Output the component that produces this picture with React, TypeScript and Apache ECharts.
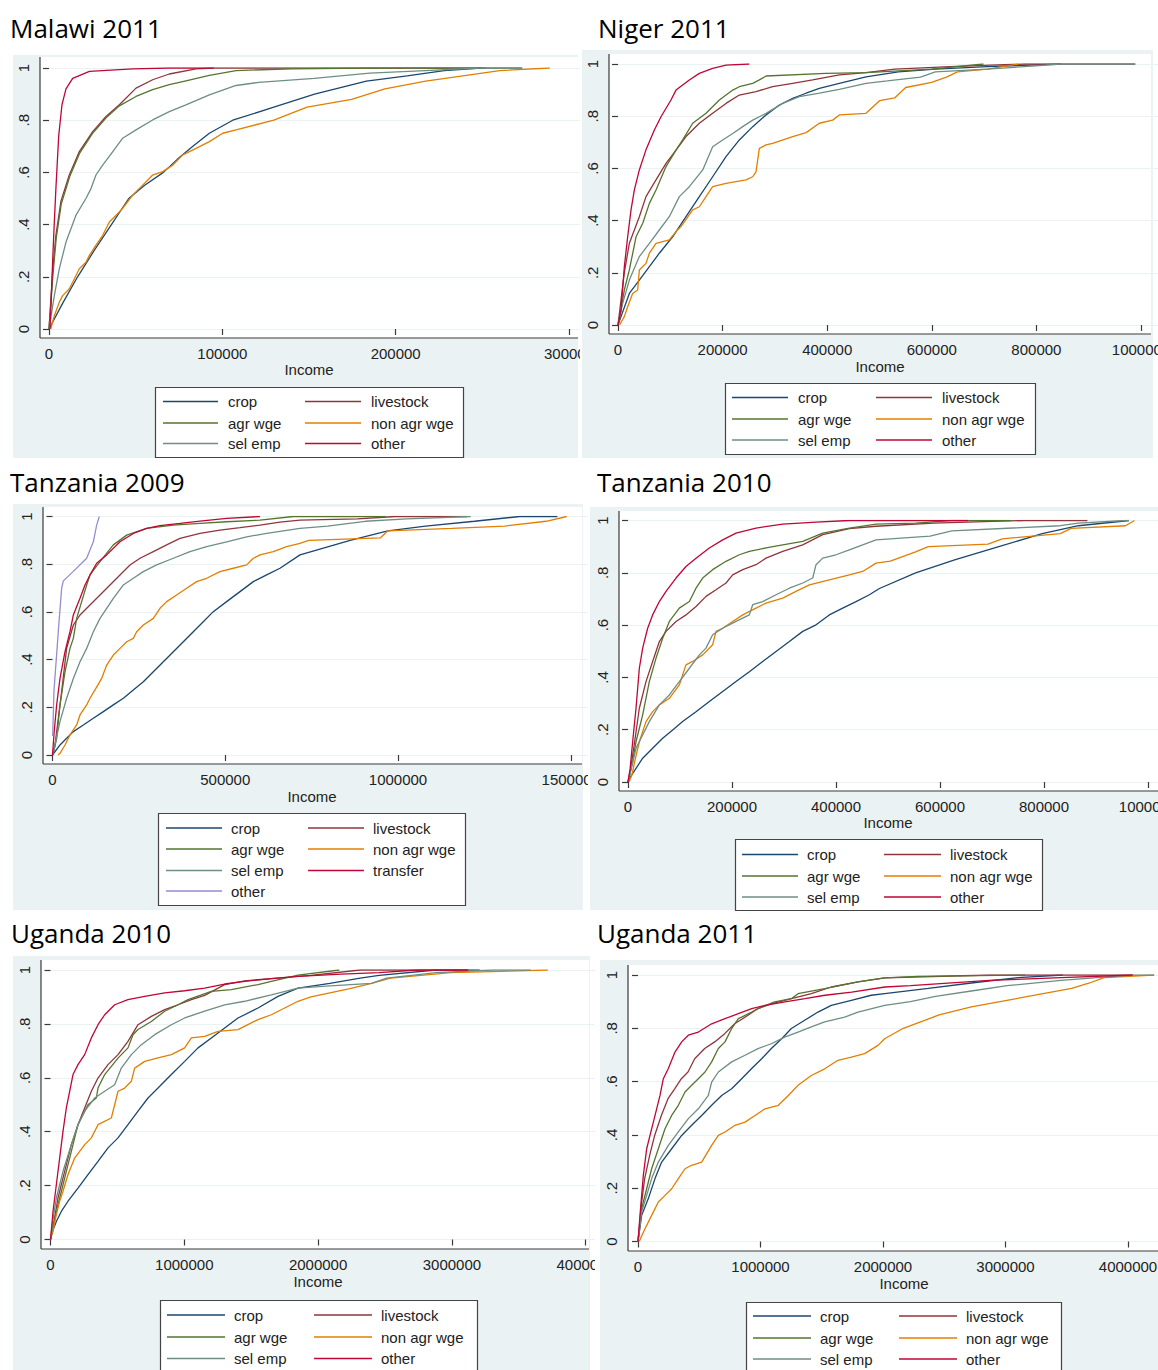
import React, { useEffect, useRef } from 'react';
import * as echarts from 'echarts';

type Pt = [number, number];

// ---------------- DATA (income, cumulative share) ----------------
// Malawi 2011
const malawiCrop: Pt[] = [[0,0],[8000,0.1],[16500,0.2],[26000,0.3],[36000,0.4],[46000,0.5],[55000,0.55],[66000,0.6],[74000,0.65],[83000,0.7],[92500,0.75],[106000,0.8],[129700,0.85],[153200,0.9],[183100,0.95],[206600,0.97],[228000,0.99],[249400,1]];
const malawiLivestock: Pt[] = [[0,0],[2100,0.22],[4000,0.36],[6900,0.49],[11700,0.59],[17500,0.68],[25200,0.756],[32900,0.814],[40600,0.859],[50200,0.923],[59800,0.955],[69400,0.977],[84800,0.997],[95000,1],[252000,1]];
const malawiAgrWge: Pt[] = [[0,0],[2300,0.21],[4200,0.35],[7100,0.48],[12000,0.585],[17800,0.675],[25400,0.752],[33100,0.81],[40600,0.855],[50200,0.891],[59800,0.917],[69400,0.936],[79000,0.951],[92500,0.972],[107900,0.99],[140000,0.997],[185000,1],[273000,1]];
const malawiNonAgrWge: Pt[] = [[1000,0],[3080,0.051],[5960,0.103],[7890,0.128],[11730,0.154],[13650,0.179],[17500,0.231],[21300,0.256],[23300,0.282],[27100,0.321],[30960,0.359],[34800,0.41],[38700,0.436],[42500,0.462],[48300,0.513],[52100,0.538],[59800,0.59],[65600,0.603],[71400,0.628],[77200,0.667],[84800,0.692],[92500,0.718],[100200,0.75],[107900,0.763],[129700,0.8],[148900,0.85],[174600,0.88],[193800,0.92],[217300,0.95],[238700,0.97],[260000,0.99],[288900,1]];
const malawiSelEmp: Pt[] = [[0,0],[3080,0.128],[5960,0.231],[9800,0.333],[15570,0.436],[21300,0.5],[24230,0.538],[27100,0.59],[30960,0.628],[36700,0.679],[42500,0.731],[50200,0.763],[59800,0.801],[69400,0.833],[79000,0.859],[92500,0.897],[107900,0.933],[121000,0.945],[153000,0.96],[185000,0.98],[217000,0.99],[249000,1],[273000,1]];
const malawiOther: Pt[] = [[500,0],[1200,0.1],[2100,0.26],[3000,0.4],[4000,0.54],[5600,0.74],[7500,0.86],[9800,0.92],[13650,0.96],[23300,0.987],[48300,0.997],[69400,1],[95000,1]];

// Niger 2011
const nigerCrop: Pt[] = [[0,0],[5740,0.032],[21700,0.121],[40800,0.172],[60000,0.224],[79000,0.275],[104500,0.338],[130000,0.415],[155500,0.492],[181000,0.568],[206500,0.645],[232000,0.709],[257600,0.76],[283100,0.805],[308600,0.843],[334000,0.868],[359600,0.888],[385000,0.907],[423200,0.926],[474200,0.951],[536000,0.97],[606700,0.98],[705900,0.99],[847500,1]];
const nigerLivestock: Pt[] = [[0,0],[6000,0.1],[12000,0.2],[21700,0.313],[40800,0.415],[53500,0.492],[72700,0.556],[91800,0.619],[110900,0.67],[130000,0.722],[155500,0.773],[181000,0.811],[206500,0.849],[232000,0.881],[263800,0.894],[295700,0.913],[334000,0.926],[372200,0.939],[423200,0.958],[474200,0.967],[528900,0.98],[635000,0.99],[776700,1],[989000,1]];
const nigerAgrWge: Pt[] = [[0,0],[5000,0.05],[12100,0.134],[21700,0.211],[34500,0.338],[47300,0.39],[60000,0.466],[72700,0.517],[91800,0.607],[110900,0.67],[123700,0.709],[142800,0.773],[168300,0.811],[193800,0.862],[219400,0.9],[232000,0.913],[257600,0.926],[270300,0.939],[283100,0.954],[397000,0.964],[474200,0.967],[599700,0.98],[698800,1]];
const nigerNonAgrWge: Pt[] = [[3000,0],[12100,0.032],[18500,0.07],[28000,0.121],[37600,0.134],[40800,0.211],[53500,0.236],[60000,0.275],[72700,0.313],[98100,0.326],[110900,0.358],[120400,0.377],[142800,0.441],[155500,0.453],[168300,0.492],[181000,0.53],[206500,0.543],[244700,0.556],[257600,0.568],[263800,0.587],[270300,0.677],[283100,0.69],[295700,0.696],[334000,0.722],[359600,0.737],[385000,0.773],[410400,0.785],[423200,0.805],[474200,0.811],[500600,0.86],[528900,0.87],[550100,0.91],[599700,0.93],[628000,0.95],[649200,0.97],[705900,0.98],[766000,1]];
const nigerSelEmp: Pt[] = [[0,0],[8900,0.083],[21700,0.172],[40800,0.262],[60000,0.313],[79000,0.364],[98100,0.415],[117300,0.492],[136400,0.53],[162000,0.594],[181000,0.683],[200100,0.709],[219400,0.734],[238400,0.76],[257600,0.785],[283100,0.811],[315000,0.849],[346800,0.875],[385000,0.888],[423200,0.903],[474200,0.926],[514700,0.935],[578400,0.95],[606700,0.97],[705900,0.98],[776700,0.99],[847500,1],[989000,1]];
const nigerOther: Pt[] = [[0,0],[5740,0.057],[12100,0.223],[18500,0.338],[24900,0.441],[31200,0.517],[40800,0.594],[53500,0.671],[69500,0.747],[82200,0.798],[101300,0.862],[110900,0.9],[136400,0.939],[155500,0.964],[181000,0.983],[206500,0.996],[251100,1]];

// Tanzania 2009
const tz09Crop: Pt[] = [[0,0],[21700,0.042],[40900,0.07],[60300,0.098],[89300,0.126],[118200,0.154],[147200,0.182],[176100,0.21],[205100,0.238],[233900,0.273],[262900,0.307],[291800,0.349],[320700,0.391],[349700,0.433],[378600,0.475],[407500,0.517],[436400,0.559],[465400,0.601],[504000,0.643],[542700,0.685],[581300,0.727],[619900,0.755],[658400,0.783],[716300,0.839],[741500,0.85],[861500,0.9],[970500,0.94],[1079600,0.96],[1221400,0.98],[1352200,1],[1461300,1]];
const tz09Livestock: Pt[] = [[0,0],[7200,0.042],[16900,0.154],[26500,0.266],[40900,0.447],[60300,0.545],[79600,0.587],[108500,0.629],[137500,0.671],[166400,0.713],[195300,0.755],[224300,0.797],[253200,0.825],[291800,0.853],[330400,0.881],[369000,0.908],[426900,0.929],[484800,0.943],[542700,0.953],[600500,0.964],[658400,0.976],[716300,0.985],[883300,0.99],[992400,1],[1199500,1]];
const tz09AgrWge: Pt[] = [[0,0],[6000,0.03],[12060,0.07],[21700,0.21],[36200,0.349],[50600,0.447],[60300,0.489],[69900,0.573],[84400,0.643],[98900,0.713],[108500,0.755],[137500,0.811],[176100,0.881],[214700,0.922],[272500,0.95],[349700,0.964],[426900,0.971],[504000,0.978],[600500,0.985],[697000,1],[965100,1]];
const tz09NonAgrWge: Pt[] = [[16400,0],[21700,0.007],[36200,0.042],[50600,0.084],[69900,0.126],[79600,0.168],[98900,0.21],[108500,0.238],[123000,0.273],[142300,0.321],[156800,0.377],[176100,0.419],[195300,0.447],[214600,0.475],[233900,0.489],[243500,0.517],[262900,0.545],[291800,0.573],[311100,0.615],[330400,0.643],[359300,0.671],[388200,0.699],[417200,0.727],[446200,0.741],[484800,0.769],[523400,0.783],[562000,0.797],[581300,0.825],[600500,0.839],[639100,0.853],[677700,0.874],[716300,0.887],[741500,0.9],[948700,0.91],[970500,0.94],[1155900,0.95],[1308600,0.96],[1428600,0.98],[1488500,1]];
const tz09SelEmp: Pt[] = [[0,0],[8000,0.05],[21700,0.14],[40900,0.238],[60300,0.321],[79600,0.391],[98900,0.447],[118200,0.517],[137500,0.573],[156800,0.615],[176100,0.657],[205100,0.713],[233900,0.741],[262900,0.769],[301400,0.797],[349700,0.825],[397900,0.853],[446200,0.874],[504000,0.894],[562000,0.915],[619900,0.929],[716300,0.95],[796100,0.96],[905100,0.98],[1025100,0.99],[1210500,1]];
const tz09Transfer: Pt[] = [[0,0],[5000,0.1],[12060,0.21],[21700,0.321],[36200,0.433],[50600,0.517],[60300,0.587],[79600,0.657],[94100,0.713],[108500,0.755],[127800,0.804],[156800,0.839],[195300,0.894],[233900,0.929],[272500,0.95],[311100,0.962],[369000,0.971],[426900,0.981],[504000,0.992],[600500,1]];
const tz09Other: Pt[] = [[500,0.08],[4300,0.27],[16900,0.52],[26500,0.7],[31400,0.73],[60300,0.77],[98900,0.825],[118200,0.894],[127800,0.964],[135500,1]];

// Tanzania 2010
const tz10Crop: Pt[] = [[0,0],[5000,0.02],[15400,0.052],[28200,0.091],[47400,0.129],[66700,0.167],[85900,0.199],[105100,0.231],[130800,0.269],[156400,0.308],[182100,0.346],[207700,0.384],[233400,0.422],[259000,0.461],[284700,0.499],[310300,0.537],[336000,0.576],[361600,0.601],[387200,0.639],[412900,0.665],[438500,0.69],[464200,0.716],[483500,0.74],[553100,0.8],[629600,0.85],[713100,0.9],[796600,0.95],[866100,0.98],[963500,1]];
const tz10Livestock: Pt[] = [[0,0],[5000,0.05],[12800,0.154],[21800,0.282],[34600,0.384],[47400,0.461],[60300,0.537],[73100,0.576],[92300,0.614],[111500,0.639],[130800,0.671],[150000,0.71],[169300,0.735],[188500,0.761],[201300,0.792],[220600,0.812],[246200,0.831],[265400,0.856],[297500,0.882],[336000,0.907],[374400,0.946],[425700,0.969],[477000,0.978],[587900,0.99],[761800,1],[883500,1]];
const tz10AgrWge: Pt[] = [[0,0],[8970,0.078],[15400,0.154],[28200,0.257],[41000,0.384],[53800,0.473],[66700,0.55],[79500,0.614],[98700,0.665],[118000,0.69],[130800,0.741],[143600,0.78],[162800,0.812],[188500,0.844],[214100,0.869],[233400,0.882],[265400,0.895],[297500,0.907],[336000,0.92],[374400,0.952],[425700,0.971],[477000,0.986],[553100,0.99],[622700,1],[737400,1]];
const tz10NonAgrWge: Pt[] = [[2000,0],[8000,0.03],[12800,0.078],[21800,0.154],[34600,0.231],[47400,0.269],[60300,0.295],[79500,0.32],[98700,0.371],[111500,0.448],[124400,0.461],[143600,0.486],[162800,0.525],[169300,0.576],[182100,0.588],[201300,0.614],[220600,0.639],[246200,0.665],[265400,0.684],[297500,0.703],[323100,0.729],[348800,0.754],[387200,0.773],[425700,0.792],[451300,0.805],[477000,0.837],[504400,0.845],[553100,0.88],[577400,0.9],[692200,0.91],[720000,0.93],[831300,0.95],[852200,0.97],[956600,0.98],[974000,1]];
const tz10SelEmp: Pt[] = [[0,0],[5000,0.04],[15400,0.129],[28200,0.18],[41000,0.231],[60300,0.295],[79500,0.333],[98700,0.384],[118000,0.435],[137200,0.486],[150000,0.512],[162800,0.563],[182100,0.588],[207700,0.614],[233400,0.639],[239800,0.678],[259000,0.69],[284700,0.716],[310300,0.741],[336000,0.761],[355200,0.78],[361600,0.831],[374400,0.856],[400000,0.869],[425700,0.888],[451300,0.907],[477000,0.926],[580900,0.94],[622700,0.96],[831300,0.98],[866100,0.99],[956600,1],[963500,1]];
const tz10Other: Pt[] = [[0,0],[4000,0.05],[8970,0.154],[15400,0.282],[21800,0.435],[28200,0.512],[37800,0.588],[47400,0.639],[60300,0.69],[73100,0.729],[92300,0.78],[111500,0.824],[130800,0.856],[156400,0.895],[182100,0.926],[207700,0.952],[246200,0.971],[297500,0.986],[361600,0.994],[425700,1],[654000,1]];

// Uganda 2010
const ug10Crop: Pt[] = [[0,0],[15000,0.03],[43600,0.067],[80900,0.104],[130800,0.142],[205500,0.191],[280200,0.241],[355000,0.29],[429800,0.34],[504500,0.377],[579200,0.426],[654000,0.476],[728700,0.525],[803500,0.562],[903200,0.612],[1002800,0.661],[1102500,0.711],[1202100,0.748],[1301700,0.785],[1401500,0.822],[1550900,0.859],[1700400,0.902],[1849800,0.933],[2087900,0.95],[2314600,0.97],[2456200,0.98],[2881200,1],[3207000,1]];
const ug10Livestock: Pt[] = [[0,0],[20000,0.05],[56100,0.154],[105900,0.253],[155700,0.352],[205500,0.426],[255400,0.488],[305200,0.55],[355000,0.599],[429800,0.649],[504500,0.686],[579200,0.735],[654000,0.797],[753600,0.828],[853300,0.853],[952900,0.871],[1052600,0.89],[1152300,0.906],[1301700,0.946],[1451200,0.96],[1650500,0.968],[1849800,0.976],[1946300,0.98],[2314600,1],[3121900,1]];
const ug10AgrWge: Pt[] = [[0,0],[20000,0.05],[56100,0.129],[105900,0.228],[155700,0.327],[205500,0.426],[280200,0.5],[342500,0.525],[355000,0.562],[404900,0.612],[504500,0.673],[579200,0.711],[616600,0.76],[654000,0.779],[753600,0.809],[853300,0.847],[952900,0.871],[1027700,0.89],[1202100,0.921],[1351600,0.927],[1550900,0.946],[1650500,0.958],[1849800,0.981],[2158700,1]];
const ug10NonAgrWge: Pt[] = [[14200,0.02],[43600,0.092],[68500,0.142],[93400,0.179],[130800,0.241],[180600,0.302],[255400,0.352],[305200,0.377],[355000,0.426],[454700,0.451],[479600,0.5],[504500,0.55],[554300,0.562],[604200,0.587],[629100,0.636],[703800,0.661],[803500,0.674],[903200,0.686],[1002800,0.711],[1052600,0.748],[1152300,0.754],[1252000,0.772],[1401500,0.779],[1550900,0.816],[1650500,0.834],[1849800,0.884],[1946300,0.9],[2229600,0.93],[2399600,0.95],[2541200,0.97],[2994500,0.99],[3716900,1]];
const ug10SelEmp: Pt[] = [[0,0],[15000,0.06],[43600,0.154],[93400,0.253],[155700,0.352],[205500,0.426],[255400,0.476],[330100,0.525],[404900,0.55],[479600,0.574],[529400,0.636],[604200,0.686],[678900,0.723],[778600,0.76],[903200,0.797],[1002800,0.822],[1152300,0.847],[1301700,0.871],[1451200,0.884],[1650500,0.908],[1849800,0.933],[2059600,0.94],[2399600,0.95],[2512900,0.97],[2881200,0.99],[3306100,1],[3589400,1]];
const ug10Other: Pt[] = [[0,0],[18700,0.104],[43600,0.203],[68500,0.302],[93400,0.401],[118300,0.488],[143300,0.55],[168200,0.612],[205500,0.649],[255400,0.686],[305200,0.748],[355000,0.797],[404900,0.834],[479600,0.871],[579200,0.89],[703800,0.902],[853300,0.915],[1002800,0.923],[1152300,0.933],[1301700,0.948],[1451200,0.958],[1650500,0.968],[1849800,0.976],[2173000,0.985],[2456000,0.99],[2739500,1],[3121900,1]];

// Uganda 2011
const ug11Crop: Pt[] = [[0,0],[29900,0.098],[84300,0.161],[138700,0.236],[193200,0.298],[274800,0.348],[356400,0.398],[438100,0.436],[519700,0.473],[601300,0.511],[683000,0.548],[764600,0.573],[846300,0.611],[927900,0.649],[1009500,0.686],[1088400,0.724],[1172800,0.761],[1251700,0.799],[1360500,0.83],[1469300,0.861],[1578200,0.886],[1741400,0.905],[1904700,0.924],[2013500,0.93],[2370100,0.95],[2721200,0.97],[3101600,0.99],[3467300,1]];
const ug11Livestock: Pt[] = [[0,0],[29900,0.148],[54400,0.236],[95200,0.323],[136000,0.398],[190500,0.473],[244900,0.536],[299300,0.573],[353800,0.611],[408200,0.636],[462600,0.686],[544200,0.724],[625900,0.749],[707500,0.78],[789100,0.817],[897900,0.849],[979600,0.874],[1088400,0.892],[1251700,0.911],[1415000,0.93],[1578200,0.955],[1795900,0.974],[2013500,0.989],[2867500,1],[4037900,1]];
const ug11AgrWge: Pt[] = [[0,0],[29900,0.123],[70700,0.198],[111500,0.273],[166000,0.348],[220400,0.423],[274800,0.473],[329300,0.511],[383700,0.561],[438100,0.586],[492500,0.611],[547000,0.636],[601300,0.674],[655800,0.724],[710200,0.749],[764600,0.799],[819000,0.836],[927900,0.861],[979600,0.874],[1115600,0.899],[1251700,0.911],[1306100,0.93],[1523800,0.949],[1795900,0.974],[2013500,0.989],[2282300,0.995],[3160100,1]];
const ug11NonAgrWge: Pt[] = [[10000,0],[57100,0.048],[111500,0.098],[166000,0.148],[220400,0.173],[274800,0.198],[329300,0.236],[383700,0.273],[438100,0.286],[519700,0.298],[601300,0.361],[655800,0.398],[710200,0.411],[791800,0.436],[873500,0.448],[955100,0.473],[1036700,0.498],[1145600,0.511],[1227200,0.548],[1306100,0.586],[1415000,0.623],[1523800,0.648],[1632600,0.68],[1741400,0.692],[1850300,0.705],[1959100,0.736],[2013500,0.761],[2165200,0.8],[2457800,0.85],[2721200,0.88],[2955300,0.9],[3306400,0.93],[3540500,0.95],[3686800,0.97],[3803800,0.99],[4213400,1]];
const ug11SelEmp: Pt[] = [[0,0],[29900,0.111],[70700,0.173],[111500,0.236],[166000,0.298],[247600,0.361],[329300,0.411],[410900,0.461],[492500,0.498],[574200,0.548],[601300,0.598],[655800,0.636],[764600,0.674],[873500,0.699],[979600,0.724],[1088400,0.742],[1197200,0.767],[1306100,0.786],[1415000,0.805],[1523800,0.824],[1687100,0.842],[1795900,0.861],[2013500,0.886],[2223800,0.9],[2428600,0.92],[2721200,0.94],[3013800,0.96],[3452700,0.98],[3745300,0.99],[4037900,1],[4213400,1]];
const ug11Other: Pt[] = [[0,0],[16300,0.098],[43500,0.248],[70700,0.348],[98000,0.398],[125200,0.448],[152400,0.498],[179600,0.548],[206800,0.611],[247600,0.649],[302000,0.711],[356400,0.749],[410900,0.774],[492500,0.786],[601300,0.817],[710200,0.836],[819000,0.855],[927900,0.874],[1036700,0.886],[1200000,0.899],[1363200,0.911],[1526500,0.924],[1744200,0.936],[2016300,0.955],[2223800,0.96],[2867500,0.98],[3452700,0.99],[4037900,1]];

const Y_TICKS = [0, 0.2, 0.4, 0.6, 0.8, 1];

// ---------------- STYLE ----------------
const COLOR: Record<string, string> = {
  crop: '#1a476f',
  livestock: '#90353b',
  'agr wge': '#55752f',
  'non agr wge': '#e37e00',
  'sel emp': '#6e8e84',
  other: '#c10534',
  transfer: '#c10534',
  lavender: '#938dd2',
};
const GREY = '#eaf2f3';
const AXIS = '#3a3a3a';
const FONT = 'Liberation Sans';

interface SeriesDef { name: string; data: Pt[]; color: string }
interface PanelCfg {
  left: number; top: number; width: number; height: number;
  title: string; titleX: number; titleY: number;
  grey: [number, number, number, number];
  axisX: number; axisY: number; plotTop: number; plotRight: number;
  x0: number; pxPerUnit: number; y0: number; y1: number;
  interval: number;
  incomeX: number; incomeY: number;
  legendBox: [number, number, number, number];
  col1: [number, number, number]; col2: [number, number, number];
  rows: number[];
  series: SeriesDef[];
  legendOrder: string[][];
}

const six = (crop: Pt[], live: Pt[], agr: Pt[], non: Pt[], sel: Pt[], oth: Pt[]): SeriesDef[] => [
  { name: 'crop', data: crop, color: COLOR.crop },
  { name: 'livestock', data: live, color: COLOR.livestock },
  { name: 'agr wge', data: agr, color: COLOR['agr wge'] },
  { name: 'non agr wge', data: non, color: COLOR['non agr wge'] },
  { name: 'sel emp', data: sel, color: COLOR['sel emp'] },
  { name: 'other', data: oth, color: COLOR.other },
];
const ORDER6 = [['crop', 'livestock'], ['agr wge', 'non agr wge'], ['sel emp', 'other']];

const PANELS: PanelCfg[] = [
  {
    left: 0, top: 0, width: 580, height: 460,
    title: 'Malawi 2011', titleX: 10, titleY: 28,
    grey: [13, 55, 578, 458],
    axisX: 40, axisY: 338, plotTop: 57, plotRight: 578,
    x0: 49, pxPerUnit: 520 / 300000, y0: 329, y1: 68, interval: 100000,
    incomeX: 309, incomeY: 369,
    legendBox: [155, 387, 463, 457], col1: [163, 218, 228], col2: [305, 361, 371], rows: [401.5, 423, 443.5],
    series: six(malawiCrop, malawiLivestock, malawiAgrWge, malawiNonAgrWge, malawiSelEmp, malawiOther),
    legendOrder: ORDER6,
  },
  {
    left: 580, top: 0, width: 578, height: 460,
    title: 'Niger 2011', titleX: 598, titleY: 28,
    grey: [582, 50, 1153, 458],
    axisX: 609, axisY: 334, plotTop: 54, plotRight: 1151,
    x0: 618, pxPerUnit: 523 / 1000000, y0: 325, y1: 64, interval: 200000,
    incomeX: 880, incomeY: 366,
    legendBox: [725, 383, 1035, 454], col1: [732, 788, 798], col2: [876, 932, 942], rows: [397.5, 419, 440],
    series: six(nigerCrop, nigerLivestock, nigerAgrWge, nigerNonAgrWge, nigerSelEmp, nigerOther),
    legendOrder: ORDER6,
  },
  {
    left: 0, top: 460, width: 588, height: 452,
    title: 'Tanzania 2009', titleX: 10, titleY: 482,
    grey: [13, 504, 583, 910],
    axisX: 43, axisY: 764, plotTop: 507, plotRight: 582,
    x0: 52.5, pxPerUnit: 345.5 / 1000000, y0: 755, y1: 516.5, interval: 500000,
    incomeX: 312, incomeY: 796,
    legendBox: [158, 813, 465, 905], col1: [166, 222, 231], col2: [308, 364, 373], rows: [828, 849, 870.5, 891],
    series: [
      { name: 'crop', data: tz09Crop, color: COLOR.crop },
      { name: 'livestock', data: tz09Livestock, color: COLOR.livestock },
      { name: 'agr wge', data: tz09AgrWge, color: COLOR['agr wge'] },
      { name: 'non agr wge', data: tz09NonAgrWge, color: COLOR['non agr wge'] },
      { name: 'sel emp', data: tz09SelEmp, color: COLOR['sel emp'] },
      { name: 'transfer', data: tz09Transfer, color: COLOR.transfer },
      { name: 'other', data: tz09Other, color: COLOR.lavender },
    ],
    legendOrder: [['crop', 'livestock'], ['agr wge', 'non agr wge'], ['sel emp', 'transfer'], ['other']],
  },
  {
    left: 588, top: 460, width: 570, height: 452,
    title: 'Tanzania 2010', titleX: 597, titleY: 482,
    grey: [590, 507, 1158, 910],
    axisX: 619, axisY: 791, plotTop: 511, plotRight: 1158,
    x0: 628, pxPerUnit: 520 / 1000000, y0: 782, y1: 520.5, interval: 200000,
    incomeX: 888, incomeY: 822,
    legendBox: [735, 839, 1042, 910], col1: [742, 798, 807], col2: [884, 941, 950], rows: [854.5, 876, 897],
    series: six(tz10Crop, tz10Livestock, tz10AgrWge, tz10NonAgrWge, tz10SelEmp, tz10Other),
    legendOrder: ORDER6,
  },
  {
    left: 0, top: 912, width: 595, height: 458,
    title: 'Uganda 2010', titleX: 11, titleY: 933,
    grey: [13, 956, 590, 1370],
    axisX: 41, axisY: 1249, plotTop: 960, plotRight: 589,
    x0: 50.5, pxPerUnit: 133.8 / 1000000, y0: 1239.5, y1: 970, interval: 1000000,
    incomeX: 318, incomeY: 1281,
    legendBox: [160, 1300, 477, 1374], col1: [167, 225, 234], col2: [314, 372, 381], rows: [1315, 1337, 1358.5],
    series: six(ug10Crop, ug10Livestock, ug10AgrWge, ug10NonAgrWge, ug10SelEmp, ug10Other),
    legendOrder: ORDER6,
  },
  {
    left: 595, top: 912, width: 563, height: 458,
    title: 'Uganda 2011', titleX: 597, titleY: 933,
    grey: [600, 960, 1158, 1370],
    axisX: 628, axisY: 1251, plotTop: 965, plotRight: 1158,
    x0: 638, pxPerUnit: 122.5 / 1000000, y0: 1241.5, y1: 975, interval: 1000000,
    incomeX: 904, incomeY: 1283,
    legendBox: [746, 1302, 1061, 1374], col1: [753, 811, 820], col2: [899, 957, 966], rows: [1316, 1338, 1359],
    series: six(ug11Crop, ug11Livestock, ug11AgrWge, ug11NonAgrWge, ug11SelEmp, ug11Other),
    legendOrder: ORDER6,
  },
];

function buildOption(c: PanelCfg): any {
  const L = c.left, T = c.top;
  const gridLeft = c.x0 - L;
  const gridTop = c.y1 - T;
  const gridHeight = c.y0 - c.y1;
  const gridWidth = c.width - gridLeft + 2;
  const xMax = gridWidth / c.pxPerUnit;
  const colorOf: Record<string, string> = {};
  c.series.forEach((s) => { colorOf[s.name] = s.color; });

  const graphic: any[] = [
    { type: 'rect', z: -20, silent: true, shape: { x: c.grey[0] - L, y: c.grey[1] - T, width: c.grey[2] - c.grey[0], height: c.grey[3] - c.grey[1] }, style: { fill: GREY } },
    { type: 'rect', z: -19, silent: true, shape: { x: c.axisX - L, y: c.plotTop - T, width: c.plotRight - c.axisX, height: c.axisY - c.plotTop }, style: { fill: '#ffffff' } },
    { type: 'line', z: 20, silent: true, shape: { x1: c.axisX - L, y1: c.plotTop - T, x2: c.axisX - L, y2: c.axisY - T }, style: { stroke: AXIS, lineWidth: 1.2 } },
    { type: 'line', z: 20, silent: true, shape: { x1: c.axisX - L, y1: c.axisY - T, x2: c.plotRight - L, y2: c.axisY - T }, style: { stroke: AXIS, lineWidth: 1.2 } },
    { type: 'text', z: 20, silent: true, x: c.titleX - L, y: c.titleY - T, style: { text: c.title, fill: '#000', fontFamily: 'Open Sans', fontSize: 26, textAlign: 'left', textVerticalAlign: 'middle', align: 'left', verticalAlign: 'middle' } },
    { type: 'text', z: 20, silent: true, x: c.incomeX - L, y: c.incomeY - T, style: { text: 'Income', fill: '#222', fontFamily: FONT, fontSize: 15, textAlign: 'center', textVerticalAlign: 'middle', align: 'center', verticalAlign: 'middle' } },
    { type: 'rect', z: 20, silent: true, shape: { x: c.legendBox[0] - L + 0.5, y: c.legendBox[1] - T + 0.5, width: c.legendBox[2] - c.legendBox[0], height: c.legendBox[3] - c.legendBox[1] }, style: { fill: '#ffffff', stroke: '#444', lineWidth: 1.2 } },
  ];
  c.legendOrder.forEach((row, ri) => {
    row.forEach((name, ci) => {
      const col = ci === 0 ? c.col1 : c.col2;
      const y = c.rows[ri] - T;
      graphic.push({ type: 'line', z: 21, silent: true, shape: { x1: col[0] - L, y1: y, x2: col[1] - L, y2: y }, style: { stroke: colorOf[name], lineWidth: 1.6 } });
      graphic.push({ type: 'text', z: 21, silent: true, x: col[2] - L, y, style: { text: name, fill: '#222', fontFamily: FONT, fontSize: 15, textAlign: 'left', textVerticalAlign: 'middle', align: 'left', verticalAlign: 'middle' } });
    });
  });

  const interval = c.interval;
  return {
    animation: false,
    backgroundColor: '#ffffff',
    grid: { left: gridLeft, top: gridTop, width: gridWidth, height: gridHeight, containLabel: false, outerBoundsMode: 'none' },
    xAxis: {
      type: 'value', min: 0, max: xMax, interval,
      offset: c.axisY - c.y0,
      axisLine: { show: false },
      axisTick: { show: true, length: 6, lineStyle: { color: AXIS, width: 1.2 } },
      splitLine: { show: false },
      axisLabel: {
        show: true, interval: 0, margin: 8, color: '#222', fontFamily: FONT, fontSize: 15,
        showMinLabel: true, showMaxLabel: true, hideOverlap: false,
        formatter: (v: number) => {
          const k = v / interval;
          return Math.abs(k - Math.round(k)) < 1e-6 ? String(Math.round(v)) : '';
        },
      },
    },
    yAxis: {
      type: 'value', min: 0, max: 1, interval: 0.2,
      offset: c.x0 - c.axisX,
      axisLine: { show: false },
      axisTick: { show: true, length: 6, lineStyle: { color: AXIS, width: 1.2 } },
      splitLine: { show: true, lineStyle: { color: GREY, width: 1.2 } },
      axisLabel: {
        show: true, rotate: 90, margin: 9, color: '#222', fontFamily: FONT, fontSize: 15,
        customValues: Y_TICKS,
        formatter: (v: number) => {
          if (Math.abs(v) < 1e-9) return '0';
          if (Math.abs(v - 1) < 1e-9) return '1';
          return '.' + Math.round(v * 10);
        },
      },
    },
    graphic,
    series: c.series.map((s) => ({
      type: 'line', name: s.name, data: s.data,
      showSymbol: false, symbol: 'none', silent: true, clip: true,
      lineStyle: { color: s.color, width: 1.3 },
      itemStyle: { color: s.color },
    })),
  };
}

function Panel({ cfg }: { cfg: PanelCfg }) {
  const ref = useRef<HTMLDivElement>(null);
  useEffect(() => {
    if (!ref.current) return;
    const chart = echarts.init(ref.current, undefined, { renderer: 'svg' });
    chart.setOption(buildOption(cfg));
    return () => chart.dispose();
  }, [cfg]);
  return (
    <div
      ref={ref}
      style={{ position: 'absolute', left: cfg.left, top: cfg.top, width: cfg.width, height: cfg.height, overflow: 'hidden' }}
    />
  );
}

export default function App() {
  return (
    <div style={{ position: 'absolute', left: 0, top: 0, width: 1158, height: 1370, background: '#ffffff', overflow: 'hidden' }}>
      {PANELS.map((p) => (
        <Panel key={p.title} cfg={p} />
      ))}
    </div>
  );
}
